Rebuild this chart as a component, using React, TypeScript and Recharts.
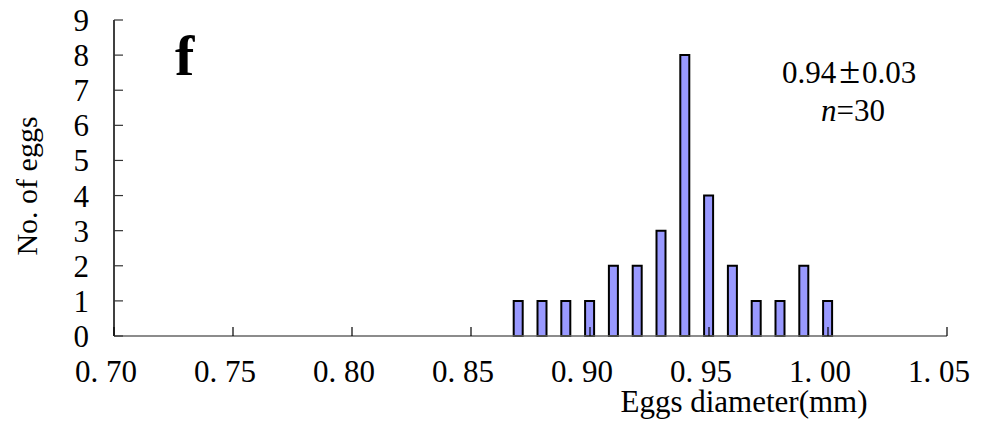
import { BarChart, Bar, XAxis, YAxis } from 'recharts';

const diameters = [0.87, 0.88, 0.89, 0.9, 0.91, 0.92, 0.93, 0.94, 0.95, 0.96, 0.97, 0.98, 0.99, 1.0];
const counts = [1, 1, 1, 1, 2, 2, 3, 8, 4, 2, 1, 1, 2, 1];
const xTicks = [0.7, 0.75, 0.8, 0.85, 0.9, 0.95, 1.0, 1.05];
const yTicks = [0, 1, 2, 3, 4, 5, 6, 7, 8, 9];

const data = diameters.map((d, i) => ({ d, n: counts[i] }));

const FONT = 'Liberation Serif, serif';
const txt = { fontFamily: FONT };

function XTick(props: any) {
  const { x, y, payload } = props;
  const label = Number(payload.value).toFixed(2).replace('.', '. ');
  return (
    <g>
      <line x1={x} y1={y} x2={x} y2={y - 9} stroke="#000" strokeWidth={1.2} />
      <text x={x - 8} y={y + 46} textAnchor="middle" fontSize={31} style={txt} fill="#000">
        {label}
      </text>
    </g>
  );
}

function YTick(props: any) {
  const { x, y, payload } = props;
  return (
    <g>
      <line x1={x} y1={y} x2={x + 9} y2={y} stroke="#333" strokeWidth={1.2} />
      <text x={89} y={y + 11} textAnchor="end" fontSize={31} style={txt} fill="#000">
        {payload.value}
      </text>
    </g>
  );
}

export default function App() {
  return (
    <div style={{ position: 'absolute', left: 0, top: 0, width: 984, height: 422, background: '#fff', fontFamily: FONT }}>
      <BarChart width={984} height={422} data={data} margin={{ top: 20, right: 37, bottom: 36, left: 54 }}>
        <XAxis
          type="number"
          dataKey="d"
          domain={[0.7, 1.05]}
          ticks={xTicks}
          allowDataOverflow
          height={50}
          tickSize={0}
          tickMargin={0}
          tickLine={false}
          tick={<XTick />}
          stroke="#666"
          strokeWidth={1.5}
        />
        <YAxis
          domain={[0, 9]}
          ticks={yTicks}
          width={60}
          tickSize={0}
          tickMargin={0}
          tickLine={false}
          tick={<YTick />}
          stroke="#000"
          strokeWidth={1.5}
        />
        <Bar dataKey="n" barSize={9} fill="#9999FF" stroke="#000" strokeWidth={2} isAnimationActive={false} />
      </BarChart>
      <svg width={984} height={422} style={{ position: 'absolute', left: 0, top: 0, pointerEvents: 'none', fontFamily: FONT }}>
        <text x={175} y={75} fontSize={58} fontWeight="bold" style={txt} fill="#000">f</text>
        <text x={782} y={83} fontSize={31} style={txt} fill="#000">
          0.94
          <tspan dx={3} fontSize={38}>±</tspan>
          <tspan dx={2}>0.03</tspan>
        </text>
        <text x={853} y={121} textAnchor="middle" fontSize={31} style={txt} fill="#000">
          <tspan fontStyle="italic">n</tspan>=30
        </text>
        <text x={744} y={412} textAnchor="middle" fontSize={31} style={txt} fill="#000">Eggs diameter(mm)</text>
        <text
          x={26}
          y={186}
          transform="rotate(-90 26 186)"
          textAnchor="middle"
          dominantBaseline="central"
          fontSize={30}
          style={txt}
          fill="#000"
        >
          No. of eggs
        </text>
      </svg>
    </div>
  );
}
